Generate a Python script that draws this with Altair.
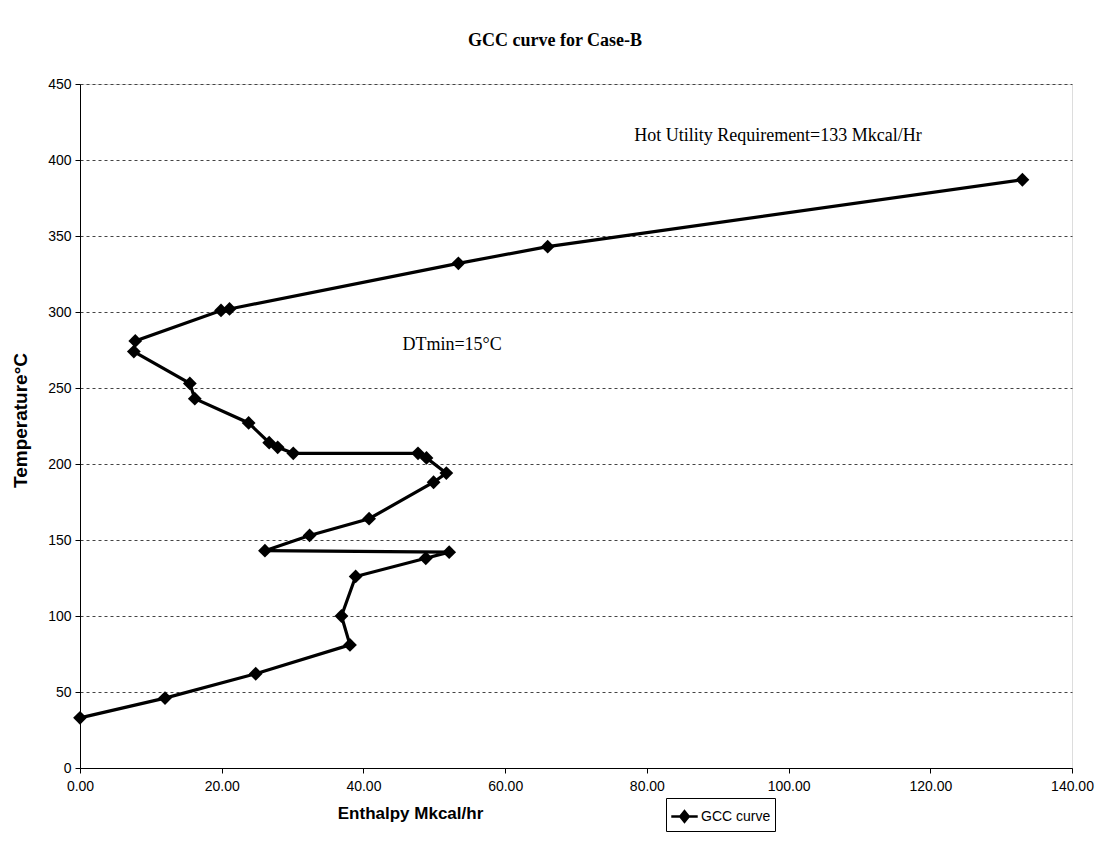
import altair as alt
import pandas as pd

# GCC curve points (enthalpy Mkcal/hr, temperature °C), in drawing order
enthalpy = [0.0, 12.0, 24.8, 38.1, 36.9, 38.9, 48.8, 52.1, 26.1, 32.4, 40.8,
            49.9, 51.7, 48.9, 47.7, 30.1, 27.9, 26.7, 23.8, 16.2, 15.5, 7.6,
            7.8, 19.9, 21.1, 53.4, 66.0, 133.0]
temperature = [33, 46, 62, 81, 100, 126, 138, 142, 143, 153, 164,
               188, 194, 204, 207, 207, 211, 214, 227, 243, 253, 274,
               281, 301, 302, 332, 343, 387]
series_name = "GCC curve"

ann_text = ["Hot Utility Requirement=133 Mkcal/Hr", "DTmin=15°C"]
ann_x = [98.5, 45.5]
ann_y = [416, 278]
ann_align = ["center", "left"]

x_ticks = [0, 20, 40, 60, 80, 100, 120, 140]
y_ticks = [0, 50, 100, 150, 200, 250, 300, 350, 400, 450]

df = pd.DataFrame({
    "order": list(range(len(enthalpy))),
    "Enthalpy": enthalpy,
    "Temperature": temperature,
    "series": [series_name] * len(enthalpy),
})
ann = pd.DataFrame({"text": ann_text, "x": ann_x, "y": ann_y, "align": ann_align})

xscale = alt.Scale(domain=[0, 140], nice=False, zero=True)
yscale = alt.Scale(domain=[0, 450], nice=False, zero=True)
color = alt.Color(
    "series:N",
    scale=alt.Scale(range=["black"]),
    legend=alt.Legend(
        title=None,
        orient="none",
        legendX=586,
        legendY=714,
        strokeColor="black",
        fillColor="white",
        padding=4,
        symbolType="M-1,0H1M0,-0.4L0.32,0L0,0.4L-0.32,0Z",
        symbolSize=700,
        symbolStrokeWidth=2.5,
        symbolFillColor="black",
        symbolStrokeColor="black",
        symbolOffset=0,
        labelFont="Liberation Sans",
        labelFontSize=14,
        labelColor="black",
        labelOffset=2,
        cornerRadius=0,
    ),
)

axis_common = dict(
    labelFont="Liberation Sans", labelFontSize=14, labelColor="black",
    titleFont="Liberation Sans", titleFontWeight="bold",
    titleColor="black", domainColor="black", tickColor="black", tickSize=5,
    labelFlush=False,
)

base = alt.Chart(df).encode(
    x=alt.X("Enthalpy:Q", scale=xscale,
            axis=alt.Axis(title="Enthalpy Mkcal/hr", format=".2f",
                          values=x_ticks, grid=False, titleFontSize=17,
                          titleX=330, titleY=45, titleBaseline="middle",
                          labelPadding=6, **axis_common)),
    y=alt.Y("Temperature:Q", scale=yscale,
            axis=alt.Axis(title="Temperature°C", values=y_ticks,
                          grid=True, gridDash=[3, 3], gridColor="#444444",
                          gridWidth=1, titleFontSize=19, titleX=-60, titleY=336,
                          titleAngle=-90, titleBaseline="middle",
                          titleAlign="center", labelPadding=4, **axis_common)),
    order="order:Q",
)

line = base.mark_line(strokeWidth=3.2).encode(color=color)
points = base.mark_point(shape="diamond", filled=True, size=190, opacity=1).encode(color=color)

texts = []
for a in ["center", "left"]:
    texts.append(
        alt.Chart(ann).transform_filter(alt.datum.align == a).mark_text(
            font="Liberation Serif", fontSize=18, color="black",
            baseline="middle", align=a
        ).encode(
            x=alt.X("x:Q", scale=xscale),
            y=alt.Y("y:Q", scale=yscale),
            text="text:N",
        )
    )

chart = alt.layer(line, points, *texts).properties(
    width=992,
    height=684,
    autosize=alt.AutoSizeParams(type="none"),
    padding={"left": 72, "top": 76, "right": 27, "bottom": 70},
    title=alt.TitleParams(
        "GCC curve for Case-B",
        font="Liberation Serif",
        fontSize=18,
        fontWeight="bold",
        color="black",
        anchor="middle",
        dx=-21,
        offset=27,
    ),
).configure_view(
    stroke="black", strokeWidth=1
).configure(background="white")

chart.save("out.html", embed_options={"renderer": "svg", "actions": False})
